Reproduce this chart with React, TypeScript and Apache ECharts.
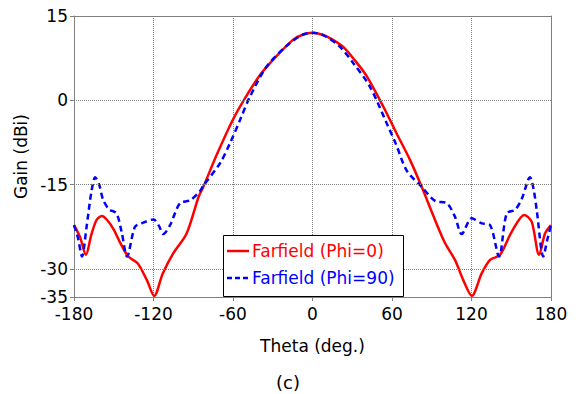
import React, { useEffect, useRef } from 'react';
import * as echarts from 'echarts';

// Farfield (Phi=0) — red solid
const thetaRed = [-180, -175.5, -171, -167, -163, -159, -155, -150, -145, -139, -132, -125, -119.5, -113, -105, -95, -86, -82.4, -72.3, -60.2, -51, -39.6, -27, -14.5, -7, 0, 7, 14.5, 23.2, 32, 40.9, 53.4, 63.5, 73.6, 82.4, 92.5, 100, 107.5, 113.8, 120.2, 127.7, 134, 141.5, 150.3, 159.9, 165.4, 171, 175.5, 180];
const gainRed = [-22.2, -24.3, -27.5, -24.0, -21.3, -20.6, -21.3, -23.0, -25.4, -27.8, -29.0, -32.0, -34.8, -30.8, -27.2, -23.7, -17.2, -15.4, -9.7, -3.5, 0.35, 4.5, 7.9, 10.8, 11.7, 12.0, 11.7, 10.9, 9.5, 7.1, 4.3, -1.1, -5.9, -10.6, -15.4, -21.3, -25.4, -28.4, -32.0, -34.8, -30.8, -28.4, -27.5, -23.4, -20.4, -21.6, -27.5, -23.7, -22.2];

// Farfield (Phi=90) — blue dashed
const thetaBlue = [-180, -177, -174, -170.5, -167, -164, -161, -158, -153.5, -148, -144, -140, -134, -129, -120, -116, -112.6, -107.5, -100, -92.5, -85.4, -82.4, -69.8, -62.3, -54.7, -47.2, -34.6, -19.5, -8, 0, 8, 20, 30.8, 43.4, 56, 63, 71.1, 82.4, 92.5, 101.3, 107.5, 112.6, 120.2, 127.7, 134, 140.8, 146.6, 152.8, 158, 164.2, 167, 169.2, 174.2, 177, 180];
const gainBlue = [-22.2, -24.5, -27.8, -22.5, -16.5, -13.7, -15.0, -17.7, -19.4, -20.1, -23.5, -27.8, -22.5, -21.9, -21.2, -22.3, -23.8, -22.2, -18.3, -17.8, -16.3, -15.2, -11.2, -7.65, -3.5, 0.65, 6.0, 9.7, 11.6, 12.0, 11.6, 9.7, 6.6, 2.4, -4.1, -7.8, -12.5, -15.4, -17.9, -18.3, -20.7, -23.8, -21.0, -21.9, -22.2, -27.8, -20.1, -19.5, -17.5, -13.7, -16.0, -19.5, -27.8, -25.0, -22.2];

const yTickLabels = [15, 0, -15, -30, -35];
const seriesNames = ['Farfield (Phi=0)', 'Farfield (Phi=90)'];

const FONT = 'DejaVu Sans';
const GRID_COLOR = '#808080';
const RED = '#ff0000';
const BLUE = '#0000ff';

export default function App() {
  const ref = useRef<HTMLDivElement>(null);
  useEffect(() => {
    if (!ref.current) return;
    const chart = echarts.init(ref.current, undefined, { renderer: 'svg' });
    const redData = thetaRed.map((t, i) => [t, gainRed[i]]);
    const blueData = thetaBlue.map((t, i) => [t, gainBlue[i]]);
    chart.setOption({
      animation: false,
      backgroundColor: '#ffffff',
      textStyle: { fontFamily: FONT },
      grid: { left: 74, right: 27, top: 16, bottom: 97 },
      xAxis: [
        {
          type: 'value',
          min: -180,
          max: 180,
          interval: 60,
          name: 'Theta (deg.)',
          nameLocation: 'middle',
          nameGap: 40,
          nameTextStyle: { fontSize: 17, color: '#000', fontFamily: FONT },
          axisLine: { show: true, onZero: false, lineStyle: { color: GRID_COLOR, width: 1 } },
          axisTick: { show: true, inside: false, length: 4, lineStyle: { color: GRID_COLOR } },
          axisLabel: { fontSize: 17, color: '#000', margin: 8, fontFamily: FONT },
          splitLine: { show: true, lineStyle: { type: 'dotted', color: GRID_COLOR, width: 1 } },
        },
        {
          type: 'value',
          position: 'top',
          min: -180,
          max: 180,
          interval: 60,
          axisLine: { show: true, onZero: false, lineStyle: { color: GRID_COLOR, width: 1 } },
          axisTick: { show: false },
          axisLabel: { show: false },
          splitLine: { show: false },
        },
      ],
      yAxis: [
        {
          type: 'value',
          min: -35,
          max: 15,
          interval: 5,
          name: 'Gain (dBi)',
          nameLocation: 'middle',
          nameGap: 38,
          nameTextStyle: { fontSize: 17, color: '#000', fontFamily: FONT },
          axisLine: { show: true, onZero: false, lineStyle: { color: GRID_COLOR, width: 1 } },
          axisTick: { show: true, length: 4, lineStyle: { color: GRID_COLOR }, customValues: yTickLabels },
          axisLabel: {
            fontSize: 17,
            color: '#000',
            margin: 6,
            fontFamily: FONT,
            formatter: (v: number) => (yTickLabels.indexOf(v) >= 0 ? String(v) : ''),
          },
          splitLine: { show: false },
        },
        {
          type: 'value',
          position: 'right',
          min: -35,
          max: 15,
          interval: 5,
          axisLine: { show: true, onZero: false, lineStyle: { color: GRID_COLOR, width: 1 } },
          axisTick: { show: false },
          axisLabel: { show: false },
          splitLine: { show: false },
        },
      ],
      series: [
        {
          name: 'grid-h',
          type: 'line',
          data: [],
          z: 1,
          silent: true,
          markLine: {
            silent: true,
            symbol: 'none',
            label: { show: false },
            lineStyle: { type: 'dotted', color: GRID_COLOR, width: 1 },
            data: [{ yAxis: 0 }, { yAxis: -15 }, { yAxis: -30 }],
          },
        },
        {
          name: seriesNames[0],
          type: 'line',
          data: redData,
          smooth: 0.3,
          showSymbol: false,
          symbol: 'none',
          z: 3,
          color: RED,
          lineStyle: { color: RED, width: 2.5 },
        },
        {
          name: seriesNames[1],
          type: 'line',
          data: blueData,
          smooth: 0.3,
          showSymbol: false,
          symbol: 'none',
          z: 4,
          color: BLUE,
          lineStyle: { color: BLUE, width: 2.5, type: [6, 4] },
        },
      ],
      graphic: [
        {
          type: 'group',
          z: 100,
          children: [
            {
              type: 'rect',
              shape: { x: 223.5, y: 235.5, width: 180, height: 61 },
              style: { fill: '#ffffff', stroke: '#000000', lineWidth: 1 },
              z: 100,
            },
            {
              type: 'line',
              shape: { x1: 227, y1: 251, x2: 249, y2: 251 },
              style: { stroke: RED, lineWidth: 2.5 },
              z: 101,
            },
            {
              type: 'text',
              x: 252,
              y: 251,
              style: { text: seriesNames[0], fontSize: 17, fill: RED, fontFamily: FONT, verticalAlign: 'middle', align: 'left' },
              z: 101,
            },
            {
              type: 'line',
              shape: { x1: 227, y1: 278, x2: 249, y2: 278 },
              style: { stroke: BLUE, lineWidth: 2.5, lineDash: [5, 3] },
              z: 101,
            },
            {
              type: 'text',
              x: 252,
              y: 278,
              style: { text: seriesNames[1], fontSize: 17, fill: BLUE, fontFamily: FONT, verticalAlign: 'middle', align: 'left' },
              z: 101,
            },
          ],
        },
        {
          type: 'text',
          x: 288,
          y: 382,
          z: 100,
          style: { text: '(c)', fontSize: 18, fill: '#000', fontFamily: FONT, align: 'center', verticalAlign: 'middle' },
        },
      ],
    });
    return () => chart.dispose();
  }, []);
  return (
    <div
      ref={ref}
      style={{ position: 'fixed', left: 0, top: 0, width: 578, height: 394 }}
    />
  );
}
